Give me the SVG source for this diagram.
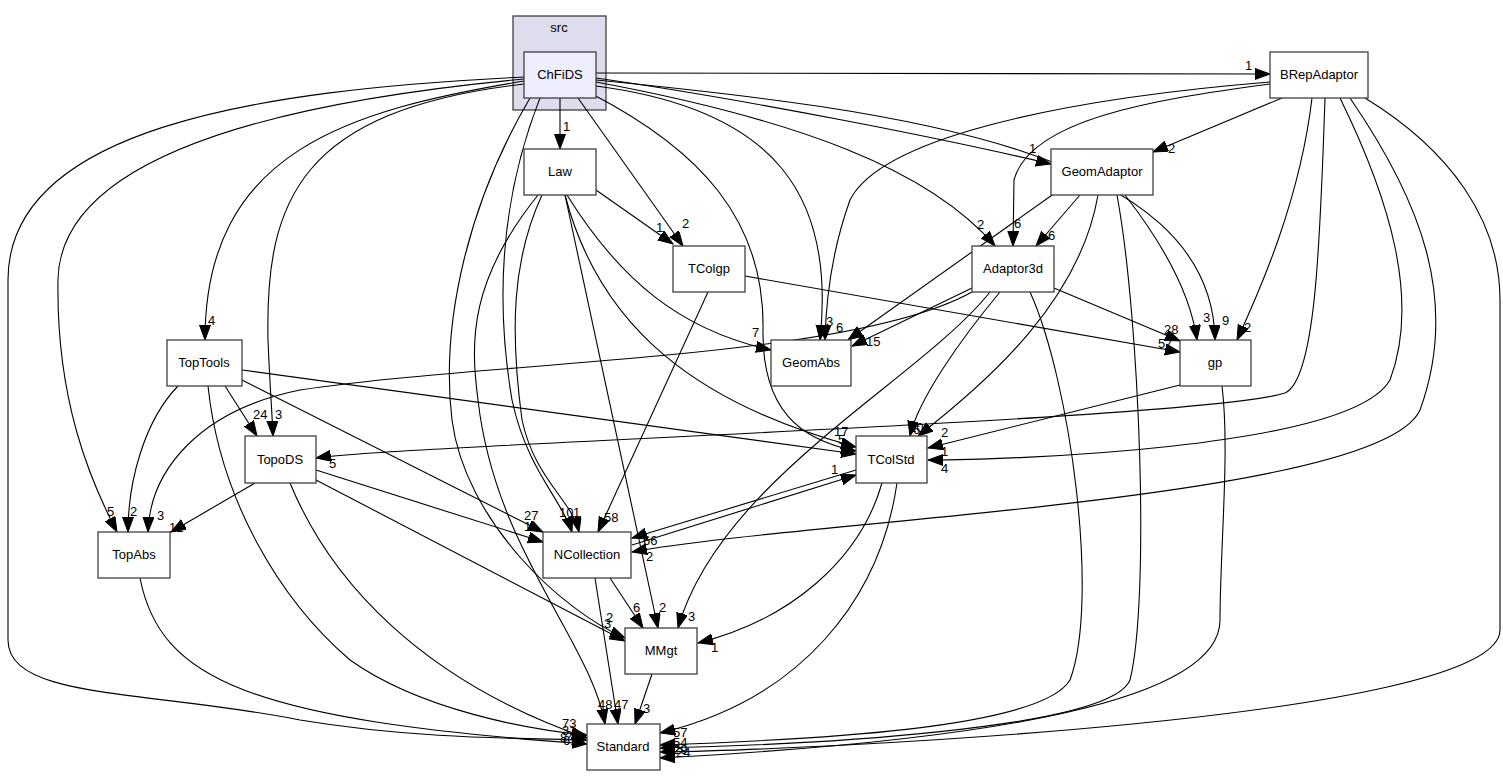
<svg xmlns="http://www.w3.org/2000/svg" width="1503" height="777" viewBox="0 0 1503 777">
<style>
text{font-family:"Liberation Sans",Arial,sans-serif;font-size:13px;fill:#000}
.n{text-anchor:middle}
.box{fill:#fff;stroke:#404040;stroke-width:1.3}
.e{fill:none;stroke:#000;stroke-width:1.1;marker-end:url(#ah)}
</style>
<defs>
<marker id="ah" markerUnits="userSpaceOnUse" markerWidth="18" markerHeight="14" refX="15" refY="5.5" orient="auto">
<path d="M0,0 L15,5.5 L0,11 z" fill="#000" stroke="#000" stroke-width="1"/>
</marker>
</defs>
<rect width="1503" height="777" fill="#fff"/>
<g id="cluster_src">
<rect x="513" y="16" width="93" height="94" fill="#ddddee" stroke="#404040" stroke-width="1.3"/>
<text class="n" x="559" y="32">src</text>
</g>
<g id="connectors">
<!-- ChFiDS -->
<path class="e" d="M596,73 L1270,74"/>
<path class="e" d="M560,98 L560,149"/>
<path class="e" d="M578,98 L683,246"/>
<path class="e" d="M596,78 C750,100 950,140 1051,164"/>
<path class="e" d="M596,82 C800,120 930,170 995,246"/>
<path class="e" d="M596,80 C900,110 1212,150 1215,340"/>
<path class="e" d="M596,86 C780,110 835,200 820,340"/>
<path class="e" d="M592,94 C700,150 765,220 763,330 C762,410 800,440 856,451"/>
<path class="e" d="M524,77 C250,90 8,130 8,280 L8,640 C8,700 150,690 300,720 C420,740 530,738 587,740"/>
<path class="e" d="M524,79 C300,100 60,150 58,280 C56,400 90,480 117,532"/>
<path class="e" d="M524,81 C350,110 205,150 205,340"/>
<path class="e" d="M524,84 C300,110 265,200 268,340 C270,390 272,410 273,436"/>
<path class="e" d="M540,98 C500,200 495,300 512,400 C527,470 562,500 572,532"/>
<path class="e" d="M530,98 C470,200 440,320 452,420 C465,520 560,610 625,638"/>
<!-- Law -->
<path class="e" d="M542,195 C512,260 510,330 522,420 C535,480 572,500 579,532"/>
<path class="e" d="M538,195 C470,280 470,340 478,400 C495,550 590,640 605,724"/>
<path class="e" d="M565,195 L658,628"/>
<path class="e" d="M567,195 C620,280 680,330 771,350"/>
<path class="e" d="M565,195 C600,330 700,405 856,447"/>
<path class="e" d="M596,190 L673,244"/>
<!-- TColgp -->
<path class="e" d="M745,276 L1180,352"/>
<path class="e" d="M708,292 L598,532"/>
<!-- GeomAdaptor -->
<path class="e" d="M1080,195 L1036,246"/>
<path class="e" d="M1055,193 L848,340"/>
<path class="e" d="M1125,195 C1160,240 1190,290 1197,340"/>
<path class="e" d="M1098,195 C1080,300 990,380 918,436"/>
<path class="e" d="M1117,195 C1140,320 1150,600 1130,680 C1110,730 800,745 660,748"/>
<!-- Adaptor3d -->
<path class="e" d="M972,288 L852,346"/>
<path class="e" d="M1054,288 L1180,341"/>
<path class="e" d="M1000,292 C960,340 918,400 910,436"/>
<path class="e" d="M990,292 C920,380 720,480 678,628"/>
<path class="e" d="M972,292 C850,360 500,360 300,390 C200,410 150,470 148,532"/>
<path class="e" d="M1030,292 C1070,380 1100,600 1070,680 C1040,730 800,740 660,745"/>
<!-- BRepAdaptor -->
<path class="e" d="M1282,98 L1153,152"/>
<path class="e" d="M1270,84 C1150,100 1030,120 1014,180 L1013,246"/>
<path class="e" d="M1270,82 C1050,100 880,140 850,200 C832,250 826,300 825,340"/>
<path class="e" d="M1312,98 C1300,200 1260,290 1237,340"/>
<path class="e" d="M1325,98 C1320,250 1315,380 1285,393 C1200,420 400,445 316,458"/>
<path class="e" d="M1340,98 C1390,200 1420,300 1390,380 C1350,450 1000,460 928,460"/>
<path class="e" d="M1350,98 C1420,200 1460,300 1420,410 C1380,500 800,520 632,552"/>
<path class="e" d="M1365,98 C1450,150 1500,220 1500,300 L1500,630 C1500,720 800,750 660,752"/>
<!-- TopTools -->
<path class="e" d="M225,386 L257,436"/>
<path class="e" d="M178,386 C145,420 128,480 128,532"/>
<path class="e" d="M242,370 L856,454"/>
<path class="e" d="M242,380 L543,532"/>
<path class="e" d="M208,386 C220,500 280,600 350,660 C420,710 530,730 587,735"/>
<!-- TopoDS -->
<path class="e" d="M255,483 L171,532"/>
<path class="e" d="M316,470 L543,542"/>
<path class="e" d="M316,480 L625,641"/>
<path class="e" d="M290,483 C330,580 420,680 587,738"/>
<!-- TopAbs -->
<path class="e" d="M140,578 C160,680 250,720 587,744"/>
<!-- gp -->
<path class="e" d="M1180,385 L928,448"/>
<path class="e" d="M1222,386 C1230,450 1220,550 1220,620 C1220,700 1000,740 660,758"/>
<!-- TColStd -->
<path class="e" d="M856,470 L632,538"/>
<path class="e" d="M632,545 L856,475"/>
<path class="e" d="M882,483 C860,560 790,620 698,643"/>
<path class="e" d="M897,483 C880,600 800,700 660,733"/>
<!-- NCollection -->
<path class="e" d="M610,578 L643,628"/>
<path class="e" d="M595,578 L618,724"/>
<!-- MMgt -->
<path class="e" d="M652,674 L635,724"/>
</g>
<g id="labels">
<text x="1245" y="70">1</text>
<text x="563" y="131">1</text>
<text x="682" y="228">2</text>
<text x="1029" y="153">1</text>
<text x="977" y="229">2</text>
<text x="1222" y="325">9</text>
<text x="826" y="326">3</text>
<text x="836" y="332">6</text>
<text x="834" y="436">17</text>
<text x="838" y="444">5</text>
<text x="107" y="516">5</text>
<text x="208" y="325">4</text>
<text x="275" y="419">3</text>
<text x="559" y="517">10</text>
<text x="573" y="517">1</text>
<text x="604" y="628">3</text>
<text x="606" y="622">2</text>
<text x="598" y="709">48</text>
<text x="659" y="612">2</text>
<text x="752" y="337">7</text>
<text x="656" y="232">1</text>
<text x="1158" y="348">57</text>
<text x="604" y="522">58</text>
<text x="1048" y="240">6</text>
<text x="854" y="338">4</text>
<text x="1203" y="322">3</text>
<text x="909" y="432">10</text>
<text x="913" y="434">6</text>
<text x="866" y="346">15</text>
<text x="1164" y="334">28</text>
<text x="688" y="621">3</text>
<text x="157" y="520">3</text>
<text x="1168" y="153">2</text>
<text x="1014" y="228">6</text>
<text x="1244" y="332">2</text>
<text x="329" y="468">5</text>
<text x="941" y="473">4</text>
<text x="646" y="561">2</text>
<text x="253" y="419">24</text>
<text x="130" y="516">2</text>
<text x="524" y="520">27</text>
<text x="524" y="531">1</text>
<text x="169" y="532">12</text>
<text x="941" y="456">1</text>
<text x="941" y="437">2</text>
<text x="643" y="545">66</text>
<text x="831" y="474">1</text>
<text x="711" y="652">1</text>
<text x="673" y="737">57</text>
<text x="633" y="612">6</text>
<text x="614" y="709">47</text>
<text x="643" y="713">3</text>
<text x="562" y="728">73</text>
<text x="562" y="735">31</text>
<text x="560" y="742">84</text>
<text x="563" y="745">61</text>
<text x="673" y="747">54</text>
<text x="673" y="754">29</text>
<text x="676" y="757">24</text>
</g>
<g id="node_ChFiDS"><rect x="524" y="52" width="72" height="46" fill="#eeeeff" stroke="#404040" stroke-width="1.3"/><text class="n" x="560" y="79">ChFiDS</text></g>
<g id="node_BRepAdaptor"><rect class="box" x="1270" y="52" width="98" height="46"/><text class="n" x="1319" y="79">BRepAdaptor</text></g>
<g id="node_Law"><rect class="box" x="524" y="149" width="72" height="46"/><text class="n" x="560" y="176">Law</text></g>
<g id="node_GeomAdaptor"><rect class="box" x="1051" y="149" width="102" height="46"/><text class="n" x="1102" y="176">GeomAdaptor</text></g>
<g id="node_TColgp"><rect class="box" x="673" y="246" width="72" height="46"/><text class="n" x="709" y="273">TColgp</text></g>
<g id="node_Adaptor3d"><rect class="box" x="972" y="246" width="82" height="46"/><text class="n" x="1013" y="273">Adaptor3d</text></g>
<g id="node_TopTools"><rect class="box" x="167" y="340" width="75" height="46"/><text class="n" x="204" y="367">TopTools</text></g>
<g id="node_GeomAbs"><rect class="box" x="771" y="340" width="80" height="46"/><text class="n" x="811" y="367">GeomAbs</text></g>
<g id="node_gp"><rect class="box" x="1180" y="340" width="71" height="46"/><text class="n" x="1215" y="367">gp</text></g>
<g id="node_TopoDS"><rect class="box" x="245" y="436" width="71" height="47"/><text class="n" x="280" y="464">TopoDS</text></g>
<g id="node_TColStd"><rect class="box" x="856" y="436" width="71" height="47"/><text class="n" x="891" y="464">TColStd</text></g>
<g id="node_TopAbs"><rect class="box" x="98" y="532" width="72" height="46"/><text class="n" x="134" y="559">TopAbs</text></g>
<g id="node_NCollection"><rect class="box" x="543" y="532" width="88" height="46"/><text class="n" x="587" y="559">NCollection</text></g>
<g id="node_MMgt"><rect class="box" x="625" y="628" width="72" height="46"/><text class="n" x="661" y="655">MMgt</text></g>
<g id="node_Standard"><rect class="box" x="587" y="724" width="73" height="46"/><text class="n" x="623" y="751">Standard</text></g>
</svg>
